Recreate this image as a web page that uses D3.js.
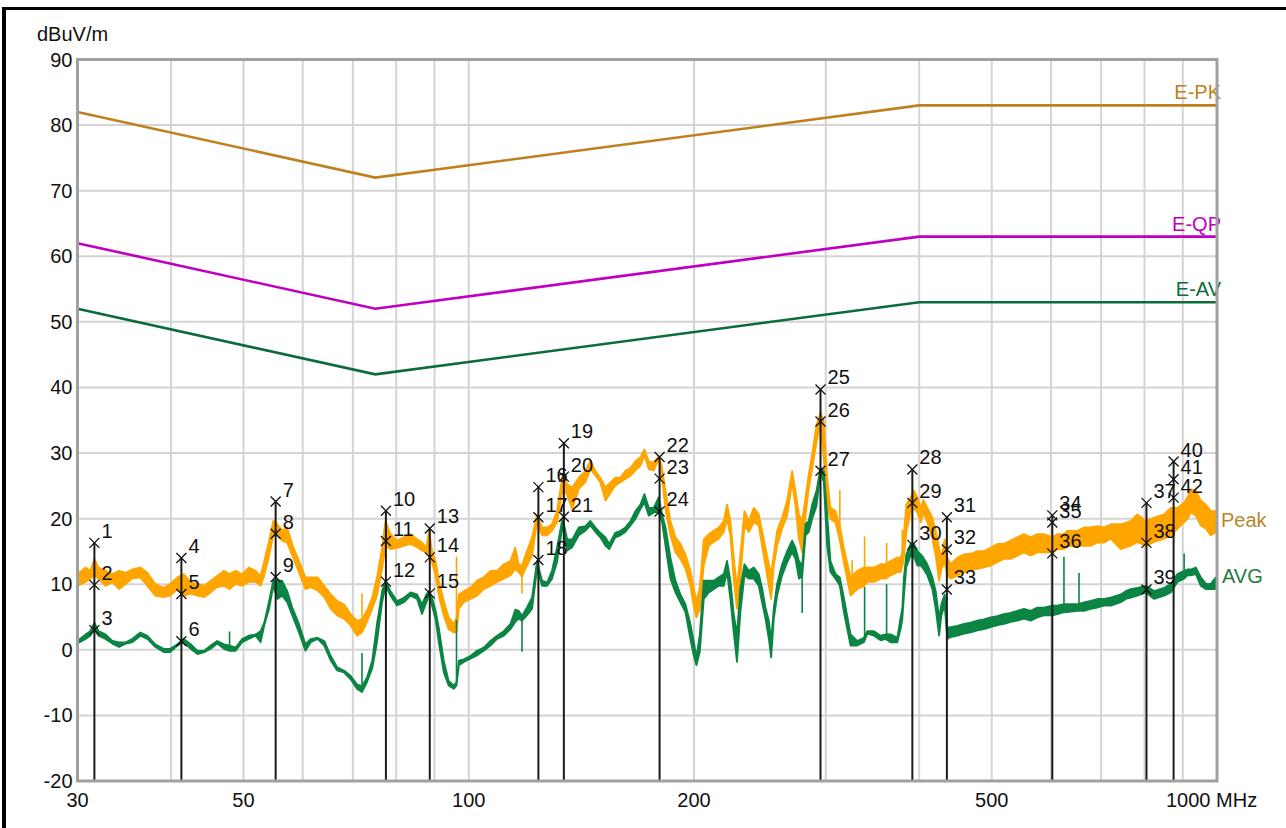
<!DOCTYPE html>
<html>
<head>
<meta charset="utf-8">
<script src="https://cdn.jsdelivr.net/npm/d3@7/dist/d3.min.js"></script>
<style>
  body { margin: 0; background: #fff; }
  svg text { font-family: "Liberation Sans", Arial, sans-serif; }
</style>
</head>
<body>
<script>
"use strict"
// frequency (MHz) of the trace samples, levels in dBuV/m (min / max inside each sample)
const traceFreq = [
  30.0, 30.75, 31.2, 31.6, 32.0, 32.7, 33.4, 34.1, 34.8, 35.5, 36.4, 37.2, 38.1, 39.1, 39.9, 40.8, 41.6, 42.5, 43.4, 44.3,
  45.2, 46.1, 47.1, 47.9, 48.8, 49.8, 50.8, 51.9, 52.7, 53.3, 54.1, 54.8, 55.5, 56.3, 57.2, 58.1, 59.3, 60.5, 61.5, 62.8, 64.1,
  65.4, 66.7, 68.1, 69.5, 70.9, 72.0, 73.1, 74.3, 75.4, 76.6, 77.4, 78.6, 80.2, 81.9, 83.6, 85.3, 86.6, 87.8, 88.5, 89.3,
  90.3, 91.2, 92.6, 94.0, 95.5, 96.3, 97.0, 98.5, 100.5, 102.6, 104.7, 106.9, 109.1, 111.4, 113.7, 115.4, 116.6, 117.8, 119.6, 121.5,
  123.4, 125.3, 127.3, 129.2, 131.2, 133.5, 135.4, 137.5, 140.3, 143.2,
  145.4, 147.7, 149.9, 152.3, 154.1, 157.0, 159.5, 161.9, 164.5, 167.0, 169.6, 171.7, 174.0, 176.7, 179.4, 181.3, 183.2, 186.0, 188.9, 191.8,
  194.8, 197.8, 199.8, 201.5, 203.6, 206.1, 209.3, 212.5, 215.8, 219.2, 221.4, 223.7, 226.0, 228.3, 230.7, 233.6, 236.7, 240.4, 244.1, 246.6,
  249.2, 251.8, 253.6, 255.7, 258.3, 262.3, 266.4, 270.5, 273.3, 276.2, 279.0, 281.9, 284.7, 287.7, 291.6, 295.2, 298.2, 301.3, 304.4, 309.1,
  313.3, 317.2,
  323.8, 330.5, 337.4, 340.9, 348.0, 355.2, 360.7, 366.3, 373.9, 377.7, 379.7, 381.6, 384.4, 389.6, 393.6, 397.7, 401.8, 405.1, 410.1, 416.5,
  420.8, 425.2, 428.2, 432.5, 436.2, 440.7, 449.8, 459.1, 468.6, 478.3, 488.2, 498.3, 508.6, 519.2, 529.9, 540.9, 552.1, 563.5, 575.2, 587.1,
  602.4, 611.8, 624.4, 630.8, 650.7, 664.2, 677.9, 692.2, 706.5, 721.2,
  743.6, 755.2, 766.9, 782.8, 803.2, 824.1, 849.8, 867.4, 885.4, 903.8, 913.2, 922.6, 936.9, 951.5, 966.3, 981.3, 996.5, 1000
];
const peakLo = [
  9.6, 10.2, 10.7, 11.2, 10.7, 9.6, 10.2, 9.1, 9.9, 10.7, 10.9, 9.6, 8.1, 7.9, 8.1, 9.1, 8.1, 8.4, 8.1, 7.9,
  8.6, 9.4, 9.6, 9.1, 9.9, 9.6, 10.2, 10.2, 9.6, 11.2, 14.2, 17.3, 17.3, 16.5, 16.2, 14.2, 11.7, 9.1, 9.4, 8.9, 7.9,
  6.1, 5.1, 4.6, 3.6, 2.0, 2.5, 4.1, 6.1, 8.1, 12.2, 15.7, 15.2, 15.4, 15.7, 16.0, 15.5, 15.0, 14.7, 14.2, 13.2,
  11.2, 8.1, 5.1, 3.0, 2.5, 2.5, 6.1, 7.1, 7.6, 8.1, 9.1, 9.6, 10.2, 10.7, 11.2, 12.2, 11.7, 11.0, 12.7, 14.2,
  19.3, 17.3, 17.3, 18.0, 19.3, 24.4, 23.4, 21.3, 24.4, 25.4,
  27.4, 26.4, 25.4, 22.6, 23.5, 24.9, 25.4, 25.9, 26.4, 27.2, 27.9, 29.5, 27.4, 27.2, 28.9, 25.9, 21.3, 17.3, 14.7, 13.7,
  12.2, 9.6, 6.6, 4.8, 6.1, 12.7, 15.7, 16.3, 16.8, 17.8, 19.8, 17.3, 10.7, 6.1, 10.7, 18.8, 17.8, 19.3, 18.8, 15.7,
  12.7, 9.6, 7.6, 12.7, 15.7, 18.3, 20.3, 25.4, 21.8, 16.8, 14.7, 20.3, 24.4, 27.4, 31.5, 34.5, 29.0, 21.8, 19.8, 19.3,
  16.5, 13.2,
  8.1, 9.1, 9.6, 10.2, 10.2, 10.7, 10.7, 11.2, 11.7, 11.7, 12.5, 14.0, 17.8, 20.8, 21.5, 20.8, 19.3, 20.8, 19.3, 16.8,
  14.2, 10.4, 12.2, 13.2, 11.2, 10.7, 11.2, 11.7, 12.0, 12.2, 12.4, 12.7, 13.2, 13.7, 13.7, 14.2, 14.7, 14.2, 14.7, 14.7,
  14.7, 15.2, 15.2, 15.7, 15.7, 15.7, 15.7, 16.2, 16.2, 16.8,
  15.2, 15.5, 15.7, 16.3, 15.7, 16.3, 16.8, 17.3, 18.3, 19.3, 19.8, 20.8, 20.3, 18.8, 18.3, 17.3, 17.8, 17.8
];
const peakHi = [
  11.7, 12.7, 12.2, 14.0, 12.7, 12.2, 11.7, 12.2, 11.9, 12.4, 12.7, 11.9, 10.2, 9.6, 10.2, 11.2, 11.7, 10.4, 10.2, 9.9,
  10.7, 11.4, 12.2, 11.7, 12.2, 11.7, 12.7, 12.2, 11.4, 13.7, 16.8, 19.8, 19.3, 18.3, 18.8, 16.2, 13.7, 11.2, 11.2, 11.2, 9.9,
  8.6, 7.6, 7.1, 5.6, 4.6, 4.8, 6.1, 8.1, 11.2, 15.7, 19.8, 17.8, 16.8, 17.3, 17.8, 17.0, 16.5, 15.7, 18.5, 15.2,
  13.7, 10.7, 7.6, 5.1, 4.1, 5.0, 8.6, 9.1, 9.6, 10.7, 11.2, 12.2, 12.2, 13.2, 13.7, 15.7, 13.2, 13.0, 15.2, 17.3,
  20.8, 18.8, 18.8, 19.3, 21.3, 26.9, 25.4, 24.9, 26.4, 27.4,
  29.0, 27.4, 26.4, 24.9, 25.5, 26.4, 26.4, 27.4, 27.9, 28.9, 29.5, 30.7, 28.9, 28.7, 29.7, 27.9, 24.4, 19.8, 17.3, 16.3,
  14.7, 12.2, 9.6, 7.6, 9.6, 17.0, 17.8, 18.3, 18.8, 19.8, 22.3, 19.8, 14.2, 9.6, 14.7, 21.3, 19.8, 21.8, 20.8, 18.3,
  15.7, 13.2, 11.7, 14.7, 18.3, 20.3, 22.9, 27.4, 24.4, 20.8, 19.8, 23.4, 26.9, 30.0, 34.5, 36.3, 35.0, 26.4, 21.8, 21.3,
  19.0, 15.7,
  11.2, 12.2, 12.7, 12.7, 12.7, 13.2, 13.2, 13.7, 14.2, 14.2, 15.0, 18.0, 22.3, 23.4, 24.4, 23.4, 21.8, 23.0, 21.8, 20.3,
  18.3, 15.7, 14.2, 17.0, 14.2, 13.2, 14.2, 14.7, 14.8, 15.2, 15.2, 15.7, 16.3, 16.3, 16.8, 17.3, 17.8, 17.3, 17.8, 17.8,
  17.3, 17.8, 17.8, 18.3, 18.3, 18.8, 18.8, 19.0, 18.8, 19.3,
  19.3, 19.5, 19.8, 20.8, 19.8, 20.3, 20.8, 21.8, 21.8, 22.6, 23.4, 24.6, 24.4, 22.9, 22.3, 21.3, 21.3, 21.3
];
const avgLo = [
  0.8, 1.5, 2.0, 3.0, 2.0, 1.5, 0.8, 0.3, 0.8, 1.0, 2.0, 1.5, 0.3, -0.5, -0.5, 0.5, 1.0, 0.0, -0.8, -0.5,
  0.0, 0.8, 0.0, -0.3, -0.3, 1.0, 1.5, 2.0, 1.0, 3.6, 6.1, 9.6, 7.6, 8.1, 7.1, 5.1, 2.5, -0.3, 1.0, 1.5, 0.5,
  -1.8, -3.3, -3.6, -4.6, -6.1, -6.6, -5.1, -3.0, 1.0, 7.1, 9.6, 8.1, 6.6, 7.1, 8.1, 7.6, 5.3, 7.1, 8.1, 6.6,
  4.5, 1.0, -3.6, -5.6, -6.1, -5.6, -2.5, -2.0, -1.5, -1.0, -0.3, 0.5, 1.5, 2.0, 3.0, 4.1, 4.6, 4.3, 5.1, 6.1,
  12.2, 9.6, 9.6, 10.7, 13.2, 18.8, 15.0, 15.5, 17.3, 18.0,
  18.8, 17.8, 17.0, 15.7, 15.2, 17.0, 17.3, 17.8, 18.8, 19.8, 21.3, 22.3, 20.3, 20.8, 20.8, 19.3, 15.7, 10.7, 8.6, 7.1,
  5.6, 1.5, -1.0, -2.5, -0.5, 7.6, 8.6, 9.1, 9.6, 9.6, 11.7, 7.6, 2.5, -2.0, 5.6, 11.2, 10.7, 10.7, 9.6, 7.1,
  4.6, 1.5, -1.3, 4.6, 8.1, 11.2, 13.2, 14.7, 13.7, 10.7, 11.0, 17.3, 17.8, 19.8, 21.8, 26.9, 25.4, 15.7, 11.7, 10.7,
  9.6, 5.6,
  0.5, 0.5, 1.0, 2.3, 2.0, 1.3, 1.5, 1.0, 1.0, 3.0, 4.5, 8.1, 12.5, 14.2, 14.0, 12.7, 12.7, 12.2, 11.2, 9.1,
  6.1, 2.0, 5.1, 6.6, 1.5, 1.8, 2.0, 2.3, 2.5, 2.8, 3.0, 3.3, 3.6, 3.8, 4.1, 4.3, 4.6, 4.3, 4.8, 5.1,
  5.1, 5.3, 5.6, 5.6, 5.8, 5.8, 6.1, 6.3, 6.6, 6.6,
  7.1, 7.6, 7.8, 8.1, 8.6, 7.6, 8.1, 8.6, 10.2, 10.7, 11.2, 11.2, 11.4, 9.6, 9.1, 9.1, 9.1, 9.1
];
const avgHi = [
  1.5, 2.5, 3.0, 4.3, 3.0, 2.5, 1.5, 1.3, 1.3, 1.8, 2.8, 2.3, 1.0, 0.3, 0.3, 1.0, 1.8, 1.0, 0.0, 0.0,
  0.8, 1.5, 1.0, 0.8, 0.5, 1.8, 2.3, 2.5, 3.0, 4.3, 7.6, 10.7, 10.7, 10.7, 9.1, 6.6, 4.1, 1.0, 1.8, 2.0, 1.5,
  -0.8, -2.5, -3.0, -3.8, -5.1, -5.4, -4.1, -1.5, 4.1, 9.1, 10.7, 9.1, 7.6, 8.1, 8.9, 8.6, 7.1, 8.6, 9.1, 8.1,
  6.1, 3.5, -1.5, -4.6, -5.3, -4.8, -1.5, -1.3, -0.8, 0.0, 0.5, 1.5, 2.3, 3.0, 4.1, 6.3, 6.1, 5.3, 6.6, 8.1,
  13.7, 10.7, 10.4, 12.2, 15.7, 20.3, 17.0, 17.0, 18.8, 19.0,
  19.8, 18.8, 18.0, 17.3, 16.3, 18.0, 18.3, 18.8, 19.8, 21.3, 22.3, 23.9, 21.8, 21.8, 23.4, 20.8, 18.8, 14.2, 10.7, 8.6,
  7.1, 4.1, 1.5, -1.0, 2.5, 10.7, 10.7, 10.7, 11.2, 11.7, 13.7, 10.7, 5.6, 2.5, 9.6, 13.2, 12.2, 12.7, 11.7, 9.6,
  6.6, 4.6, 1.5, 6.6, 10.2, 13.2, 15.2, 16.8, 15.7, 13.7, 13.0, 19.3, 19.8, 22.3, 24.4, 27.9, 27.4, 20.8, 13.7, 11.7,
  11.2, 8.1,
  2.5, 1.5, 2.0, 3.0, 3.0, 2.3, 2.5, 2.5, 2.0, 5.1, 6.5, 11.2, 14.7, 16.3, 16.3, 15.2, 14.7, 14.2, 13.2, 11.2,
  9.1, 5.0, 7.1, 8.6, 3.5, 3.6, 3.8, 4.1, 4.3, 4.6, 4.8, 5.1, 5.3, 5.6, 5.8, 6.1, 6.4, 6.1, 6.6, 6.6,
  6.9, 6.9, 7.1, 7.1, 7.1, 7.4, 7.6, 7.9, 7.9, 8.1,
  8.6, 9.1, 9.4, 9.6, 9.9, 9.1, 9.6, 10.2, 11.7, 12.2, 12.4, 12.4, 12.7, 11.2, 10.2, 10.2, 11.2, 11.0
];

// narrow single-frequency spikes: [freq, from, to]
const peakSpikes = [[72.0, 4.0, 8.6], [96.3, 3.0, 14.2], [117.8, 11.5, 8.6], [313.3, 18.0, 24.4],
  [325.4, 10.5, 13.7], [338.1, 11.0, 17.3], [361.8, 12.0, 16.3], [379.7, 13.0, 18.3]];
const avgSpikes = [[47.9, 0.3, 2.8], [72.0, -6.0, -0.5], [96.3, -5.0, 4.6], [117.8, 4.5, -0.3], [279.0, 11.5, 5.6],
  [338.1, 1.8, 9.6], [361.8, 2.0, 10.0], [624.4, 6.2, 14.2], [654.0, 6.5, 11.7], [903.8, 11.5, 14.7]];

// limit lines
const limitFreq = [30, 75, 400, 1000];
const limitPK = [82, 72, 83, 83];
const limitQP = [62, 52, 63, 63];
const limitAV = [52, 42, 53, 53];

// markers 1..42
const markerFreq = [31.6, 31.6, 31.6, 41.3, 41.3, 41.3, 55.2, 55.2, 55.2, 77.5, 77.5, 77.5, 88.7, 88.7, 88.7,
  123.9, 123.9, 123.9, 134.0, 134.0, 134.0, 179.9, 179.9, 179.9, 295.2, 295.2, 295.2, 391.6, 391.6, 391.6,
  435.5, 435.5, 435.5, 602.4, 602.4, 602.4, 804.9, 804.9, 804.9, 875.0, 875.0, 875.0];
const markerLevel = [16.3, 9.9, 3.0, 14.0, 8.5, 1.3, 22.6, 17.7, 11.1, 21.2, 16.6, 10.4, 18.5, 14.1, 8.6,
  24.8, 20.2, 13.7, 31.5, 26.4, 20.3, 29.4, 26.1, 21.1, 39.7, 34.8, 27.3, 27.5, 22.4, 16.0,
  20.2, 15.3, 9.2, 20.5, 19.4, 14.7, 22.4, 16.3, 9.2, 28.7, 26.0, 23.2];

const xTicks = [30, 50, 100, 200, 500, 1000];
const xGrid = [40, 50, 60, 70, 80, 90, 100, 200, 300, 400, 500, 600, 700, 800, 900];
const yTicks = [-20, -10, 0, 10, 20, 30, 40, 50, 60, 70, 80, 90];

const W = 1286, H = 828;
let svg = d3.select("body").append("svg")
  .attr("width", W)
  .attr("height", H);

let x = d3.scaleLog().domain([30, 1000]).range([77.5, 1217]);
let y = d3.scaleLinear().domain([-20, 90]).range([781, 59.5]);

// outer frame of the picture
svg.append("rect").attr("x", 2).attr("y", 7).attr("width", W).attr("height", 3).attr("fill", "#000");
svg.append("rect").attr("x", 2).attr("y", 7).attr("width", 4).attr("height", H).attr("fill", "#000");

// grid
let grid = svg.append("g").attr("stroke", "#d4d4d4").attr("stroke-width", 2);
grid.selectAll("line.v").data(xGrid).enter().append("line")
  .attr("x1", d => x(d)).attr("x2", d => x(d))
  .attr("y1", y(90)).attr("y2", y(-20));
grid.selectAll("line.h").data(yTicks).enter().append("line")
  .attr("x1", x(30)).attr("x2", x(1000))
  .attr("y1", d => y(d)).attr("y2", d => y(d));

// tick labels
svg.append("g").selectAll("text").data(yTicks).enter().append("text")
  .attr("x", x(30) - 5)
  .attr("y", d => y(d))
  .attr("dy", "0.35em")
  .attr("text-anchor", "end")
  .attr("font-size", 20)
  .attr("fill", "#111")
  .text(d => d);

svg.append("g").selectAll("text").data(xTicks).enter().append("text")
  .attr("x", d => d == 1000 ? x(d) - 51 : x(d))
  .attr("y", 807)
  .attr("text-anchor", d => d == 1000 ? "start" : "middle")
  .attr("font-size", 20)
  .attr("fill", "#111")
  .text(d => d == 1000 ? "1000 MHz" : d);

svg.append("text")
  .attr("x", 37).attr("y", 41)
  .attr("font-size", 20)
  .attr("fill", "#111")
  .text("dBuV/m");

// limit lines
let limitLine = d3.line().x(d => x(d[0])).y(d => y(d[1]));
let limits = [
  { name: "E-PK", vals: limitPK, color: "#c0801e" },
  { name: "E-QP", vals: limitQP, color: "#c000c0" },
  { name: "E-AV", vals: limitAV, color: "#0b6b3a" }
];
limits.forEach(function (l) {
  svg.append("path")
    .attr("d", limitLine(limitFreq.map((f, i) => [f, l.vals[i]])))
    .attr("fill", "none")
    .attr("stroke", l.color)
    .attr("stroke-width", 2.6);
  svg.append("text")
    .attr("x", x(1000) + 4)
    .attr("y", y(l.vals[l.vals.length - 1]) - 6)
    .attr("text-anchor", "end")
    .attr("font-size", 20)
    .attr("fill", l.color)
    .text(l.name);
});

// traces
let rows = traceFreq.map((f, i) => ({ f: f, pl: peakLo[i], ph: peakHi[i], al: avgLo[i], ah: avgHi[i] }));

// the band is drawn 1px inside its min/max so the stroke gives the trace its width
function band(lo, hi) {
  return d3.area()
    .x(d => x(d.f))
    .y0(d => Math.max(y(d[lo]) - 1, (y(d[lo]) + y(d[hi])) / 2))
    .y1(d => Math.min(y(d[hi]) + 1, (y(d[lo]) + y(d[hi])) / 2));
}

function spikes(list, color) {
  svg.append("g").selectAll("line").data(list).enter().append("line")
    .attr("x1", d => x(d[0])).attr("x2", d => x(d[0]))
    .attr("y1", d => y(d[1])).attr("y2", d => y(d[2]))
    .attr("stroke", color)
    .attr("stroke-width", 1.6);
}

const peakColor = "#ffa500", avgColor = "#0c8443";

svg.append("path")
  .attr("d", band("pl", "ph")(rows))
  .attr("fill", peakColor)
  .attr("stroke", peakColor)
  .attr("stroke-width", 1.8)
  .attr("stroke-linejoin", "round");
spikes(peakSpikes, peakColor);

svg.append("path")
  .attr("d", band("al", "ah")(rows))
  .attr("fill", avgColor)
  .attr("stroke", avgColor)
  .attr("stroke-width", 1.8)
  .attr("stroke-linejoin", "round");
spikes(avgSpikes, avgColor);

let last = rows[rows.length - 1];
svg.append("text")
  .attr("x", x(1000) + 4)
  .attr("y", y((last.pl + last.ph) / 2) - 2)
  .attr("dy", "0.35em")
  .attr("font-size", 20)
  .attr("fill", "#b8872e")
  .text("Peak");
svg.append("text")
  .attr("x", x(1000) + 5)
  .attr("y", y((last.al + last.ah) / 2) - 8)
  .attr("dy", "0.35em")
  .attr("font-size", 20)
  .attr("fill", "#237a45")
  .text("AVG");

// markers
let markers = markerFreq.map((f, i) => ({ no: i + 1, f: f, v: markerLevel[i] }));
let stems = d3.rollups(markers, g => d3.max(g, d => d.v), d => d.f);

svg.append("g").selectAll("line").data(stems).enter().append("line")
  .attr("x1", d => x(d[0])).attr("x2", d => x(d[0]))
  .attr("y1", d => y(d[1])).attr("y2", y(-20))
  .attr("stroke", "#1a1a1a")
  .attr("stroke-width", 2);

let mk = svg.append("g").selectAll("g").data(markers).enter().append("g")
  .attr("transform", d => "translate(" + x(d.f) + "," + y(d.v) + ")");
mk.append("path")
  .attr("d", "M-5,-5L5,5M-5,5L5,-5")
  .attr("stroke", "#111")
  .attr("stroke-width", 1.3)
  .attr("fill", "none");
mk.append("text")
  .attr("x", 7)
  .attr("y", -5)
  .attr("font-size", 20)
  .attr("fill", "#111")
  .text(d => d.no);

// plot frame
svg.append("rect")
  .attr("x", x(30)).attr("y", y(90))
  .attr("width", x(1000) - x(30))
  .attr("height", y(-20) - y(90))
  .attr("fill", "none")
  .attr("stroke", "#a0a0a0")
  .attr("stroke-width", 3);
</script>
</body>
</html>
